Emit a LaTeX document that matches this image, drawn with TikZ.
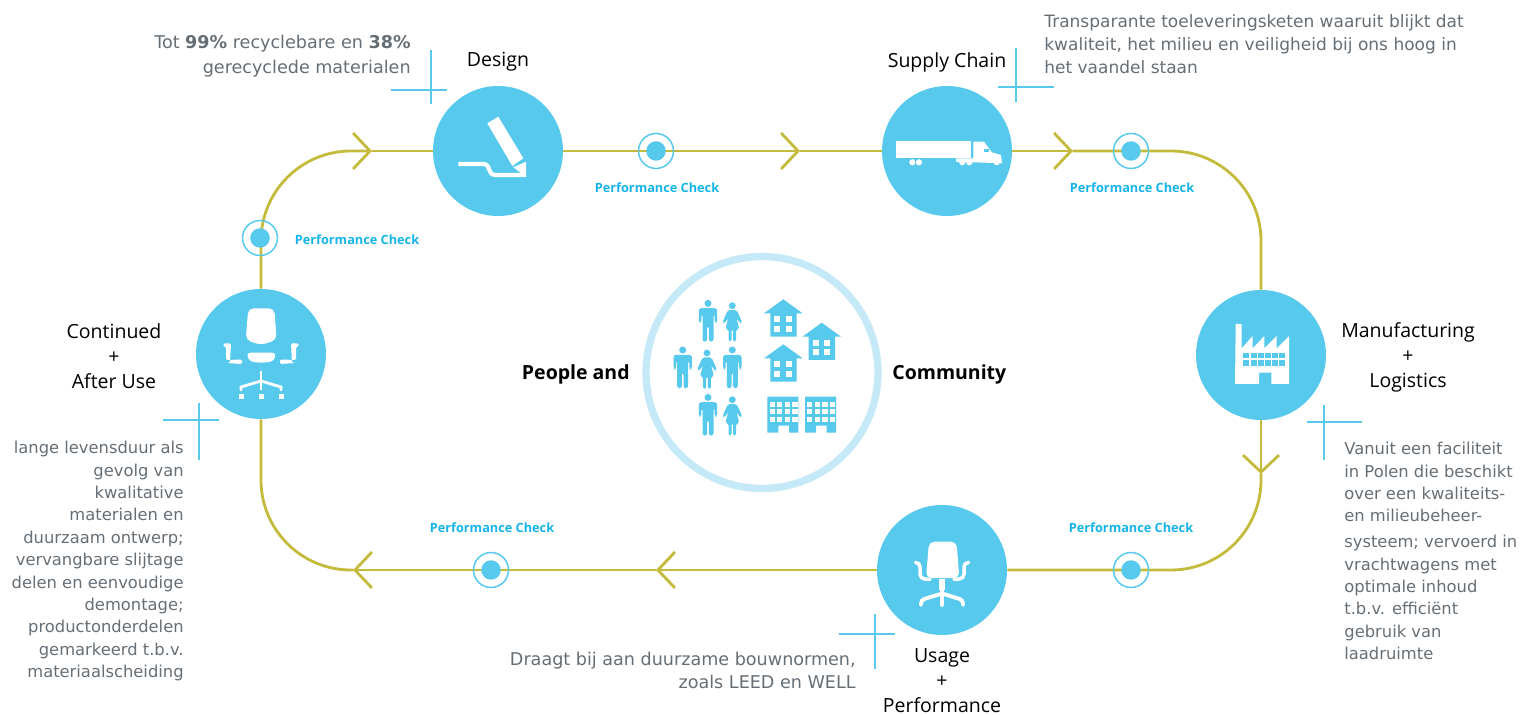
\documentclass[tikz,border=0pt]{standalone}
\usepackage{fontspec}
\setmainfont{DejaVu Sans}
\newfontfamily\labelfont{Open Sans}
\usetikzlibrary{arrows.meta}
\definecolor{iconBlue}{HTML}{56C9EC}
\definecolor{checkBlue}{HTML}{14B4EA}
\definecolor{ringBlue}{HTML}{C6E9F8}
\definecolor{loopOlive}{HTML}{C4BA3C}
\definecolor{noteGray}{HTML}{666E75}
\tikzset{%
  >={Straight Barb[length=3.4mm,width=7.2mm]},
  % Specifications for style of nodes:
       station/.style = {circle, fill=iconBlue, minimum size=2.6cm, inner sep=0pt},
     stageName/.style = {align=center, inner sep=0pt, text=black,
                         font=\labelfont\fontsize{11.1}{14.2}\selectfont},
     boldName/.style = {inner sep=0pt, text=black,
                         font=\labelfont\bfseries\fontsize{11.1}{14}\selectfont},
     checkText/.style = {inner sep=0pt, text=checkBlue,
                         font=\labelfont\bfseries\fontsize{7.25}{9}\selectfont},
          note/.style = {inner sep=0pt, text=noteGray,
                         font=\fontsize{9.3}{12.75}\selectfont},
       wideNote/.style = {note, font=\fontsize{10}{14}\selectfont},
     checkRing/.style = {circle, draw=iconBlue, line width=0.85pt, minimum size=0.7cm, inner sep=0pt},
      checkDot/.style = {circle, fill=iconBlue, minimum size=0.39cm, inner sep=0pt},
      loopLine/.style = {draw=loopOlive, line width=1.6pt, rounded corners=1.8cm},
      crossBar/.style = {draw=iconBlue, line width=0.8pt},
  % Small pictures inside the circles:
  man/.pic = {
    \fill[iconBlue] (0,-18.3) circle (3.5);
    \fill[iconBlue, rounded corners=1.5] (-9.2,-13.5) -- (9.2,-13.5) -- (9.2,1) -- (6.6,1) -- (6.6,-8)
      -- (5.5,-8) -- (5.5,20) -- (0.8,20) -- (0.8,4) -- (-0.8,4) -- (-0.8,20) -- (-5.5,20) -- (-5.5,-8)
      -- (-6.6,-8) -- (-6.6,1) -- (-9.2,1) -- cycle;
  },
  woman/.pic = {
    \fill[iconBlue] (0,-16) circle (3.4);
    \fill[iconBlue, rounded corners=1] (-4.5,-11.5) -- (4.5,-11.5) -- (10,1) -- (8,2) -- (4,-4)
      -- (7,7.5) -- (3.8,7.5) -- (3.8,20) -- (0.8,20) -- (0.8,7.5) -- (-0.8,7.5) -- (-0.8,20) -- (-3.8,20)
      -- (-3.8,7.5) -- (-7,7.5) -- (-4,-4) -- (-8,2) -- (-10,1) -- cycle;
  },
  house/.pic = {
    \fill[iconBlue] (-19.3,-5) -- (0,-19) -- (19.3,-5) -- (13.3,-5) -- (13.3,18.3) -- (-13,18.3) -- (-13,-5) -- cycle;
    \foreach \wx in {-9,2.7}
      \foreach \wy in {-2,7.3}
        \fill[white] (\wx,\wy) rectangle ++(6,6);
  },
  flats/.pic = {
    \fill[iconBlue] (0,0) -- (31,0) -- (31,36) -- (21.7,36) -- (21.7,29) -- (11,29) -- (11,36) -- (0,36) -- cycle;
    \foreach \wx in {2.2,9.8,17.4,25}
      \foreach \wy in {5,12.5,20}
        \fill[white] (\wx,\wy) rectangle ++(5.2,5.3);
  },
}

\begin{document}
\begin{tikzpicture}[x=0.02cm, y=-0.02cm]
\useasboundingbox (0,0) rectangle (1523,715);

\node (Design)   [station] at (498,151) {};
\node (Supply)   [station] at (947,151) {};
\node (Factory)  [station] at (1261,355) {};
\node (Usage)    [station] at (942,570) {};
\node (AfterUse) [station] at (261,354) {};

\coordinate (tipA) at (372,151);
\coordinate (tipB) at (800,151);
\coordinate (tipC) at (1073,151);
\coordinate (tipD) at (1261,474);
\coordinate (tipE) at (656,570);
\coordinate (tipF) at (353,570);

\draw[loopLine,->]    (AfterUse.north) |- (tipA);
\draw[loopLine]       (tipA) -- (Design.west);
\draw[loopLine,->]    (Design.east) -- (tipB);
\draw[loopLine]       (tipB) -- (Supply.west);
\draw[loopLine,->]    (Supply.east) -- (tipC);
\draw[loopLine]       (tipC) -| (Factory.north);
\draw[loopLine,->]    (Factory.south) -- (tipD);
\draw[loopLine]       (tipD) |- (Usage.east);
\draw[loopLine,->]    (Usage.west) -- (tipE);
\draw[loopLine,->]    (tipE) -- (tipF);
\draw[loopLine]       (tipF) -| (AfterUse.south);

\foreach \cx/\cy/\cname in {656/151/a, 1131/151/b, 1131/570/c, 491/570/d, 260/238/e} {
  \node (ring\cname) [checkRing] at (\cx,\cy) {};
  \node (dot\cname)  [checkDot]  at (\cx,\cy) {};
}

\node (checkTextA) [checkText] at (657,187.5) {Performance Check};
\node (checkTextB) [checkText] at (1132,187.5) {Performance Check};
\node (checkTextC) [checkText] at (1131,527.5) {Performance Check};
\node (checkTextD) [checkText] at (492,527.5) {Performance Check};
\node (checkTextE) [checkText] at (357,239.5) {Performance Check};

\node (nameDesign)  [stageName] at (498,62) {Design};
\node (nameSupply)  [stageName] at (947,62) {Supply Chain};
\node (nameFactory) [stageName] at (1408,357) {Manufacturing\\+\\Logistics};
\node (nameUsage)   [stageName] at (942,681) {Usage\\+\\Performance};
\node (nameAfter)   [stageName] at (114,356) {Continued\\+\\After Use};

\node (peopleText) [boldName, anchor=east] at (630,374) {People and};
\node (commText)   [boldName, anchor=west] at (892,374) {Community};

\node (noteDesign) [wideNote, anchor=north east, align=right] at (411,35)
  {Tot \textbf{99\%} recyclebare en \textbf{38\%}\\gerecyclede materialen};
\node (noteSupply) [note, font=\fontsize{9.68}{13.2}\selectfont, anchor=north west, align=left] at (1044,14)
  {Transparante toeleveringsketen waaruit blijkt dat\\kwaliteit, het milieu en veiligheid bij ons hoog in\\het vaandel staan};
\node (noteUsage) [note, font=\fontsize{10}{13}\selectfont, anchor=north east, align=right] at (856,652)
  {Draagt bij aan duurzame bouwnormen,\\zoals LEED en WELL};
\node (noteAfter) [note, anchor=north east, align=right] at (184,441)
  {lange levensduur als\\gevolg van\\kwalitative\\materialen en\\duurzaam ontwerp;\\vervangbare slijtage\\delen en eenvoudige\\demontage;\\productonderdelen\\gemarkeerd t.b.v.\\materiaalscheiding};
\node (noteFactoryA) [note, anchor=north west, align=left] at (1344,442)
  {Vanuit een faciliteit\\in Polen die beschikt\\over een kwaliteits-\\en milieubeheer-};
\node (noteFactoryB) [note, anchor=north west, align=left] at (1344,535)
  {systeem; vervoerd in\\vrachtwagens met\\optimale inhoud\\t.b.v. efficiënt\\gebruik van\\laadruimte};

% crosses next to the notes
\foreach \vx/\vt/\vb/\hy/\hl/\hr in {431/50/104/90/391/447, 1016/48/102/87/998/1054,
    1324/405/460/422/1307/1362, 875/614/669/634/839/895, 199/403/460/420/163/219} {
  \draw[crossBar] (\vx,\vt) -- (\vx,\vb);
  \draw[crossBar] (\hl,\hy) -- (\hr,\hy);
}

% pen
\fill[white] (487.3,123.3) -- (498.3,116.7) -- (523.3,158.3) -- (512.3,166) -- cycle;
\fill[white] (513.3,167.3) -- (526,161.7) -- (526,176.7) -- cycle;
\draw[white, line width=2.4pt] (458.3,164) -- (483,164) .. controls (492,164) and (486,175) .. (496,175) -- (526,175);

% truck
\fill[white] (896,141) rectangle (970.7,158.3);
\fill[white] (956,158.3) -- (973.3,158.3) -- (973.3,141.7) -- (984,141.7) -- (991.7,152.3) -- (1001,155)
  -- (1002,163.3) -- (956,161.7) -- cycle;
\fill[iconBlue] (984.3,148.7) rectangle (989.3,152.3);
\foreach \wx in {912.3,919,962.3,969.3,996.7}
  \fill[white] (\wx,162.3) circle (3.1);

% factory
\fill[white] (1235,384) -- (1235.7,324) -- (1241.7,324) -- (1241.7,348.3) -- (1252.7,336) -- (1252.7,348.3)
  -- (1264.3,336) -- (1264.3,348.3) -- (1276.7,336) -- (1276.7,348.3) -- (1289,336) -- (1289,384)
  -- (1271.3,384) -- (1271.3,372.7) -- (1259,372.7) -- (1259,384) -- cycle;
\foreach \wx in {0,...,5}
  \foreach \wy in {352.7,360.3}
    \fill[iconBlue] (1243.4+\wx*7.2,\wy) rectangle ++(6,5.8);

% task chair
\fill[white, rounded corners=3] (248.3,308.3) -- (274.3,308.3) -- (276.7,340) -- (261,345) -- (245.7,340) -- cycle;
\fill[white, rounded corners=2] (246.7,352.7) -- (276,352.7) -- (274,361) -- (265,362.7) -- (257,362.7) -- (249,361) -- cycle;
\foreach \sgn in {-1,1} {
  \fill[white, rounded corners=0.8] (261+\sgn*30,343.3) -- (261+\sgn*37.5,343.3) -- (261+\sgn*37.5,346.7) -- (261+\sgn*35,346.7)
    -- (261+\sgn*35,360) -- (261+\sgn*19,359.5) -- (261+\sgn*19,364) -- (261+\sgn*35,363) -- (261+\sgn*33,363) -- (261+\sgn*31,362.7) -- cycle;
  \draw[white, line width=1.6pt, line cap=round] (261,381) -- (261+\sgn*20,387) -- (261+\sgn*20,390);
  \fill[white] (261+\sgn*20,396.7) ++(-2.5,-2.5) rectangle ++(5,5);
}
\draw[white, line width=1.6pt] (261,371) -- (261,390);
\fill[white] (258.5,394.2) rectangle ++(5,5);

% office chair
\fill[white, rounded corners=3] (929,541.7) -- (956.5,541.7) -- (959.3,578) -- (926,578) -- cycle;
\fill[white] (939.3,579) rectangle (945,590);
\foreach \sgn in {-1,1} {
  \draw[white, line width=2pt, rounded corners=2.5, line cap=round]
    (942+\sgn*26.5,562.5) -- (942+\sgn*22,562.5) -- (942+\sgn*22,578.5) -- (942+\sgn*12,579.5);
  \draw[white, line width=2.2pt, line cap=round, rounded corners=2] (942,593.5) -- (942+\sgn*21,600) -- (942+\sgn*21,605);
}
\draw[white, line width=2.2pt, line cap=round] (942,590) -- (942,605);

% ring in the middle
\node (Community) [circle, draw=ringBlue, line width=4.2pt, minimum size=4.64cm, inner sep=0pt] at (762,372.5) {};
\foreach \px/\py in {708/321.7, 682.7/368.3, 732.3/368.3, 708/415.7}
  \pic at (\px,\py) {man};
\foreach \px/\py in {732.3/321.7, 707/369, 732.3/415.7}
  \pic at (\px,\py) {woman};
\foreach \px/\py in {783.3/318.3, 821.7/341.7, 783.3/363.3}
  \pic at (\px,\py) {house};
\foreach \px in {767.3,805}
  \pic at (\px,396.7) {flats};
\end{tikzpicture}
\end{document}
